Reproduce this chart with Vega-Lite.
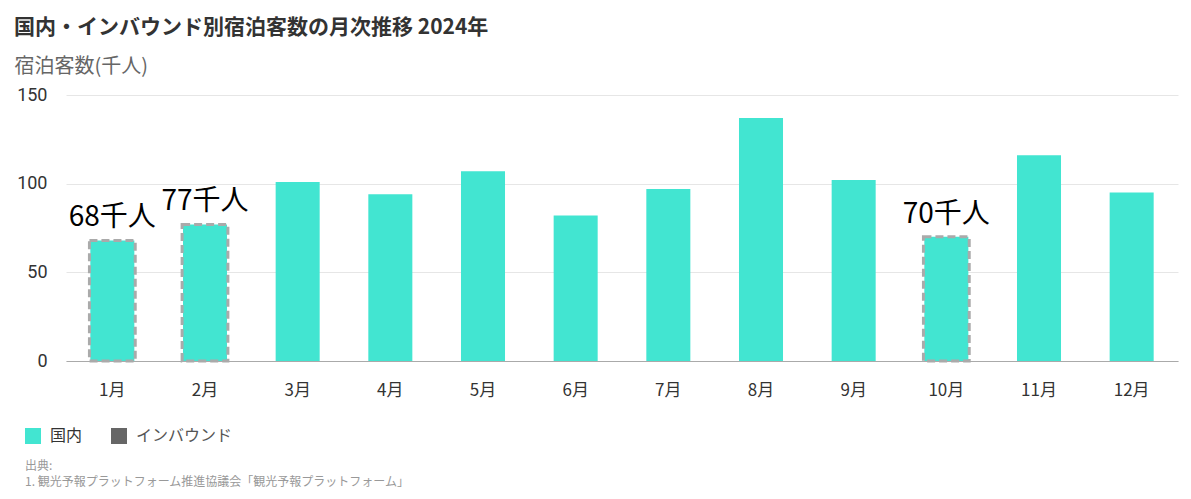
{
  "$schema": "https://vega.github.io/schema/vega-lite/v6.json",
  "width": 1112,
  "height": 266,
  "autosize": {"type": "none"},
  "padding": {"left": 66, "top": 95, "right": 13, "bottom": 138},
  "background": "white",
  "config": {"font": "Noto Sans CJK JP", "view": {"stroke": null}},
  "title": {
    "text": "国内・インバウンド別宿泊客数の月次推移 2024年",
    "anchor": "start",
    "frame": "group",
    "fontSize": 21,
    "fontWeight": "bold",
    "color": "#333333",
    "dx": -52,
    "offset": 18
  },
  "data": {
    "values": [
      {"month": "1月", "value": 68, "series": "国内", "label": "68千人"},
      {"month": "2月", "value": 77, "series": "国内", "label": "77千人"},
      {"month": "3月", "value": 101, "series": "国内", "label": null},
      {"month": "4月", "value": 94, "series": "国内", "label": null},
      {"month": "5月", "value": 107, "series": "国内", "label": null},
      {"month": "6月", "value": 82, "series": "国内", "label": null},
      {"month": "7月", "value": 97, "series": "国内", "label": null},
      {"month": "8月", "value": 137, "series": "国内", "label": null},
      {"month": "9月", "value": 102, "series": "国内", "label": null},
      {"month": "10月", "value": 70, "series": "国内", "label": "70千人"},
      {"month": "11月", "value": 116, "series": "国内", "label": null},
      {"month": "12月", "value": 95, "series": "国内", "label": null}
    ]
  },
  "encoding": {
    "x": {
      "field": "month",
      "type": "ordinal",
      "sort": null,
      "scale": {"paddingInner": 0.525, "paddingOuter": 0.2625},
      "axis": {
        "title": null,
        "labelAngle": 0,
        "ticks": false,
        "domainColor": "#aaaaaa",
        "labelPadding": 21,
        "labelFontSize": 17,
        "labelColor": "#333333"
      }
    },
    "y": {
      "field": "value",
      "type": "quantitative",
      "scale": {"domain": [0, 150]},
      "axis": {
        "title": "宿泊客数(千人)",
        "titleAngle": 0,
        "titleAlign": "left",
        "titleBaseline": "middle",
        "titleX": -52,
        "titleY": -29,
        "titleFontSize": 20,
        "titleFontWeight": "normal",
        "titleColor": "#666666",
        "values": [0, 50, 100, 150],
        "domain": false,
        "ticks": false,
        "labelPadding": 19,
        "labelFont": "Roboto",
        "labelFontSize": 18,
        "labelColor": "#333333",
        "gridColor": "#e6e6e6"
      }
    }
  },
  "layer": [
    {
      "mark": {"type": "bar"},
      "encoding": {
        "color": {
          "field": "series",
          "type": "nominal",
          "scale": {"domain": ["国内", "インバウンド"], "range": ["#42E5D1", "#666666"]},
          "legend": {
            "orient": "none",
            "legendX": -41,
            "legendY": 333,
            "direction": "horizontal",
            "symbolType": "square",
            "symbolSize": 256,
            "symbolStrokeWidth": 0,
            "labelFontSize": 16,
            "labelColor": "#333333",
            "labelOffset": 9,
            "labelLimit": 400,
            "columnPadding": 28,
            "title": ["出典:", "\u20071. 観光予報プラットフォーム推進協議会「観光予報プラットフォーム」"],
            "titleOrient": "bottom",
            "titleAnchor": "start",
            "titleFontSize": 12,
            "titleFontWeight": "normal",
            "titleColor": "#999999",
            "titlePadding": 17,
            "titleLineHeight": 16,
            "titleLimit": 1000,
            "encode": {
              "labels": {
                "update": {
                  "fill": {"signal": "datum.label == 'インバウンド' ? '#555555' : '#333333'"}
                }
              }
            }
          }
        }
      }
    },
    {
      "transform": [{"filter": "datum.label != null"}],
      "mark": {
        "type": "rect",
        "fill": "transparent",
        "stroke": "#aaaaaa",
        "strokeWidth": 3,
        "strokeDash": [8, 4],
        "width": {"band": 1.04}
      },
      "encoding": {"y2": {"datum": 0}}
    },
    {
      "transform": [{"filter": "datum.label != null"}],
      "mark": {
        "type": "text",
        "fontSize": 28,
        "dy": -14,
        "baseline": "alphabetic",
        "color": "#000000"
      },
      "encoding": {"text": {"field": "label"}}
    }
  ]
}
